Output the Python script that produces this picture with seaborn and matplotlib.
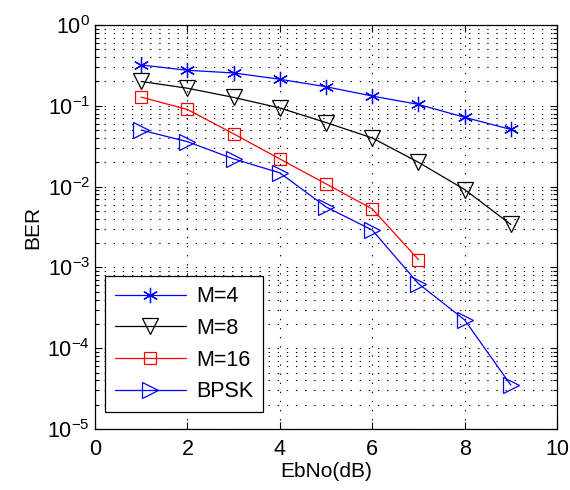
import numpy as np
import pandas as pd
import matplotlib
matplotlib.use('Agg')
import matplotlib.pyplot as plt
import matplotlib.ticker as mticker
import seaborn as sns

# values
ebno = [1, 2, 3, 4, 5, 6, 7, 8, 9]
ber_m4 = [0.32, 0.275, 0.255, 0.213, 0.172, 0.132, 0.104, 0.072, 0.051]
ber_m8 = [0.20, 0.165, 0.127, 0.094, 0.062, 0.040, 0.020, 0.0092, 0.0034]
ber_m16 = [0.128, 0.090, 0.045, 0.022, 0.0108, 0.0053, 0.00125]
ber_bpsk = [0.050, 0.036, 0.022, 0.0148, 0.0056, 0.0029, 0.00063, 0.000224, 0.000035]

labels = ['M=4', 'M=8', 'M=16', 'BPSK']

sns.set_style('ticks')
plt.rcParams['font.family'] = ['Liberation Sans', 'DejaVu Sans']
plt.rcParams['mathtext.fontset'] = 'custom'
plt.rcParams['mathtext.rm'] = 'Liberation Sans'
plt.rcParams['mathtext.it'] = 'Liberation Sans'
for key in ['text.color', 'axes.labelcolor', 'xtick.color', 'ytick.color']:
    plt.rcParams[key] = 'black'

series = [
    (labels[0], ebno, ber_m4, dict(color='#0000ff', marker=(6, 2, 0), markersize=11)),
    (labels[1], ebno, ber_m8, dict(color='black', marker='v', markersize=11,
                                   markerfacecolor='none')),
    (labels[2], ebno[:len(ber_m16)], ber_m16, dict(color='#ff0000', marker='s', markersize=9,
                                                   markerfacecolor='none')),
    (labels[3], ebno, ber_bpsk, dict(color='#0000ff', marker='>', markersize=11,
                                     markerfacecolor='none')),
]

fig = plt.figure(figsize=(5.7, 4.9), dpi=100)
ax = fig.add_axes([0.1667, 0.1245, 0.8105, 0.8245])

for name, xs, ys, style in series:
    df = pd.DataFrame({'EbNo': xs, 'BER': ys})
    sns.lineplot(data=df, x='EbNo', y='BER', ax=ax, label=name, linewidth=0.9,
                 markeredgewidth=0.9, markeredgecolor=style['color'], **style)

ax.set_yscale('log')
ax.set_xlim(0, 10)
ax.set_ylim(1e-5, 1)
ax.xaxis.set_major_locator(mticker.MultipleLocator(2))
ax.yaxis.set_major_locator(mticker.LogLocator(base=10, numticks=10))
ax.yaxis.set_minor_locator(mticker.LogLocator(base=10, subs=np.arange(2, 10), numticks=10))
ax.yaxis.set_minor_formatter(mticker.NullFormatter())

grid_kw = dict(color='black', linewidth=0.8, linestyle=(0, (1.2, 7)))
ax.grid(True, which='major', axis='both', **grid_kw)
ax.grid(True, which='minor', axis='y', **grid_kw)

ax.tick_params(which='both', direction='in', top=True, right=True, labelsize=15.5,
               width=0.8, color='black', labelcolor='black')
ax.tick_params(which='major', length=5)
ax.tick_params(which='minor', length=3)
ax.tick_params(axis='x', which='major', pad=7)
for sp in ax.spines.values():
    sp.set_linewidth(0.9)
    sp.set_color('black')

ax.set_xlabel('EbNo(dB)', fontsize=15, labelpad=2)
ax.set_ylabel('BER', fontsize=15, labelpad=4)

leg = ax.legend(loc='lower left', bbox_to_anchor=(0.022, 0.042), borderaxespad=0,
                fontsize=15.5, frameon=True, fancybox=False, framealpha=1,
                edgecolor='black', handlelength=3.3, handletextpad=0.5,
                labelspacing=0.5, borderpad=0.45)
leg.get_frame().set_linewidth(0.9)
for t in leg.get_texts():
    t.set_color('black')

fig.savefig('out.png', dpi=100)
